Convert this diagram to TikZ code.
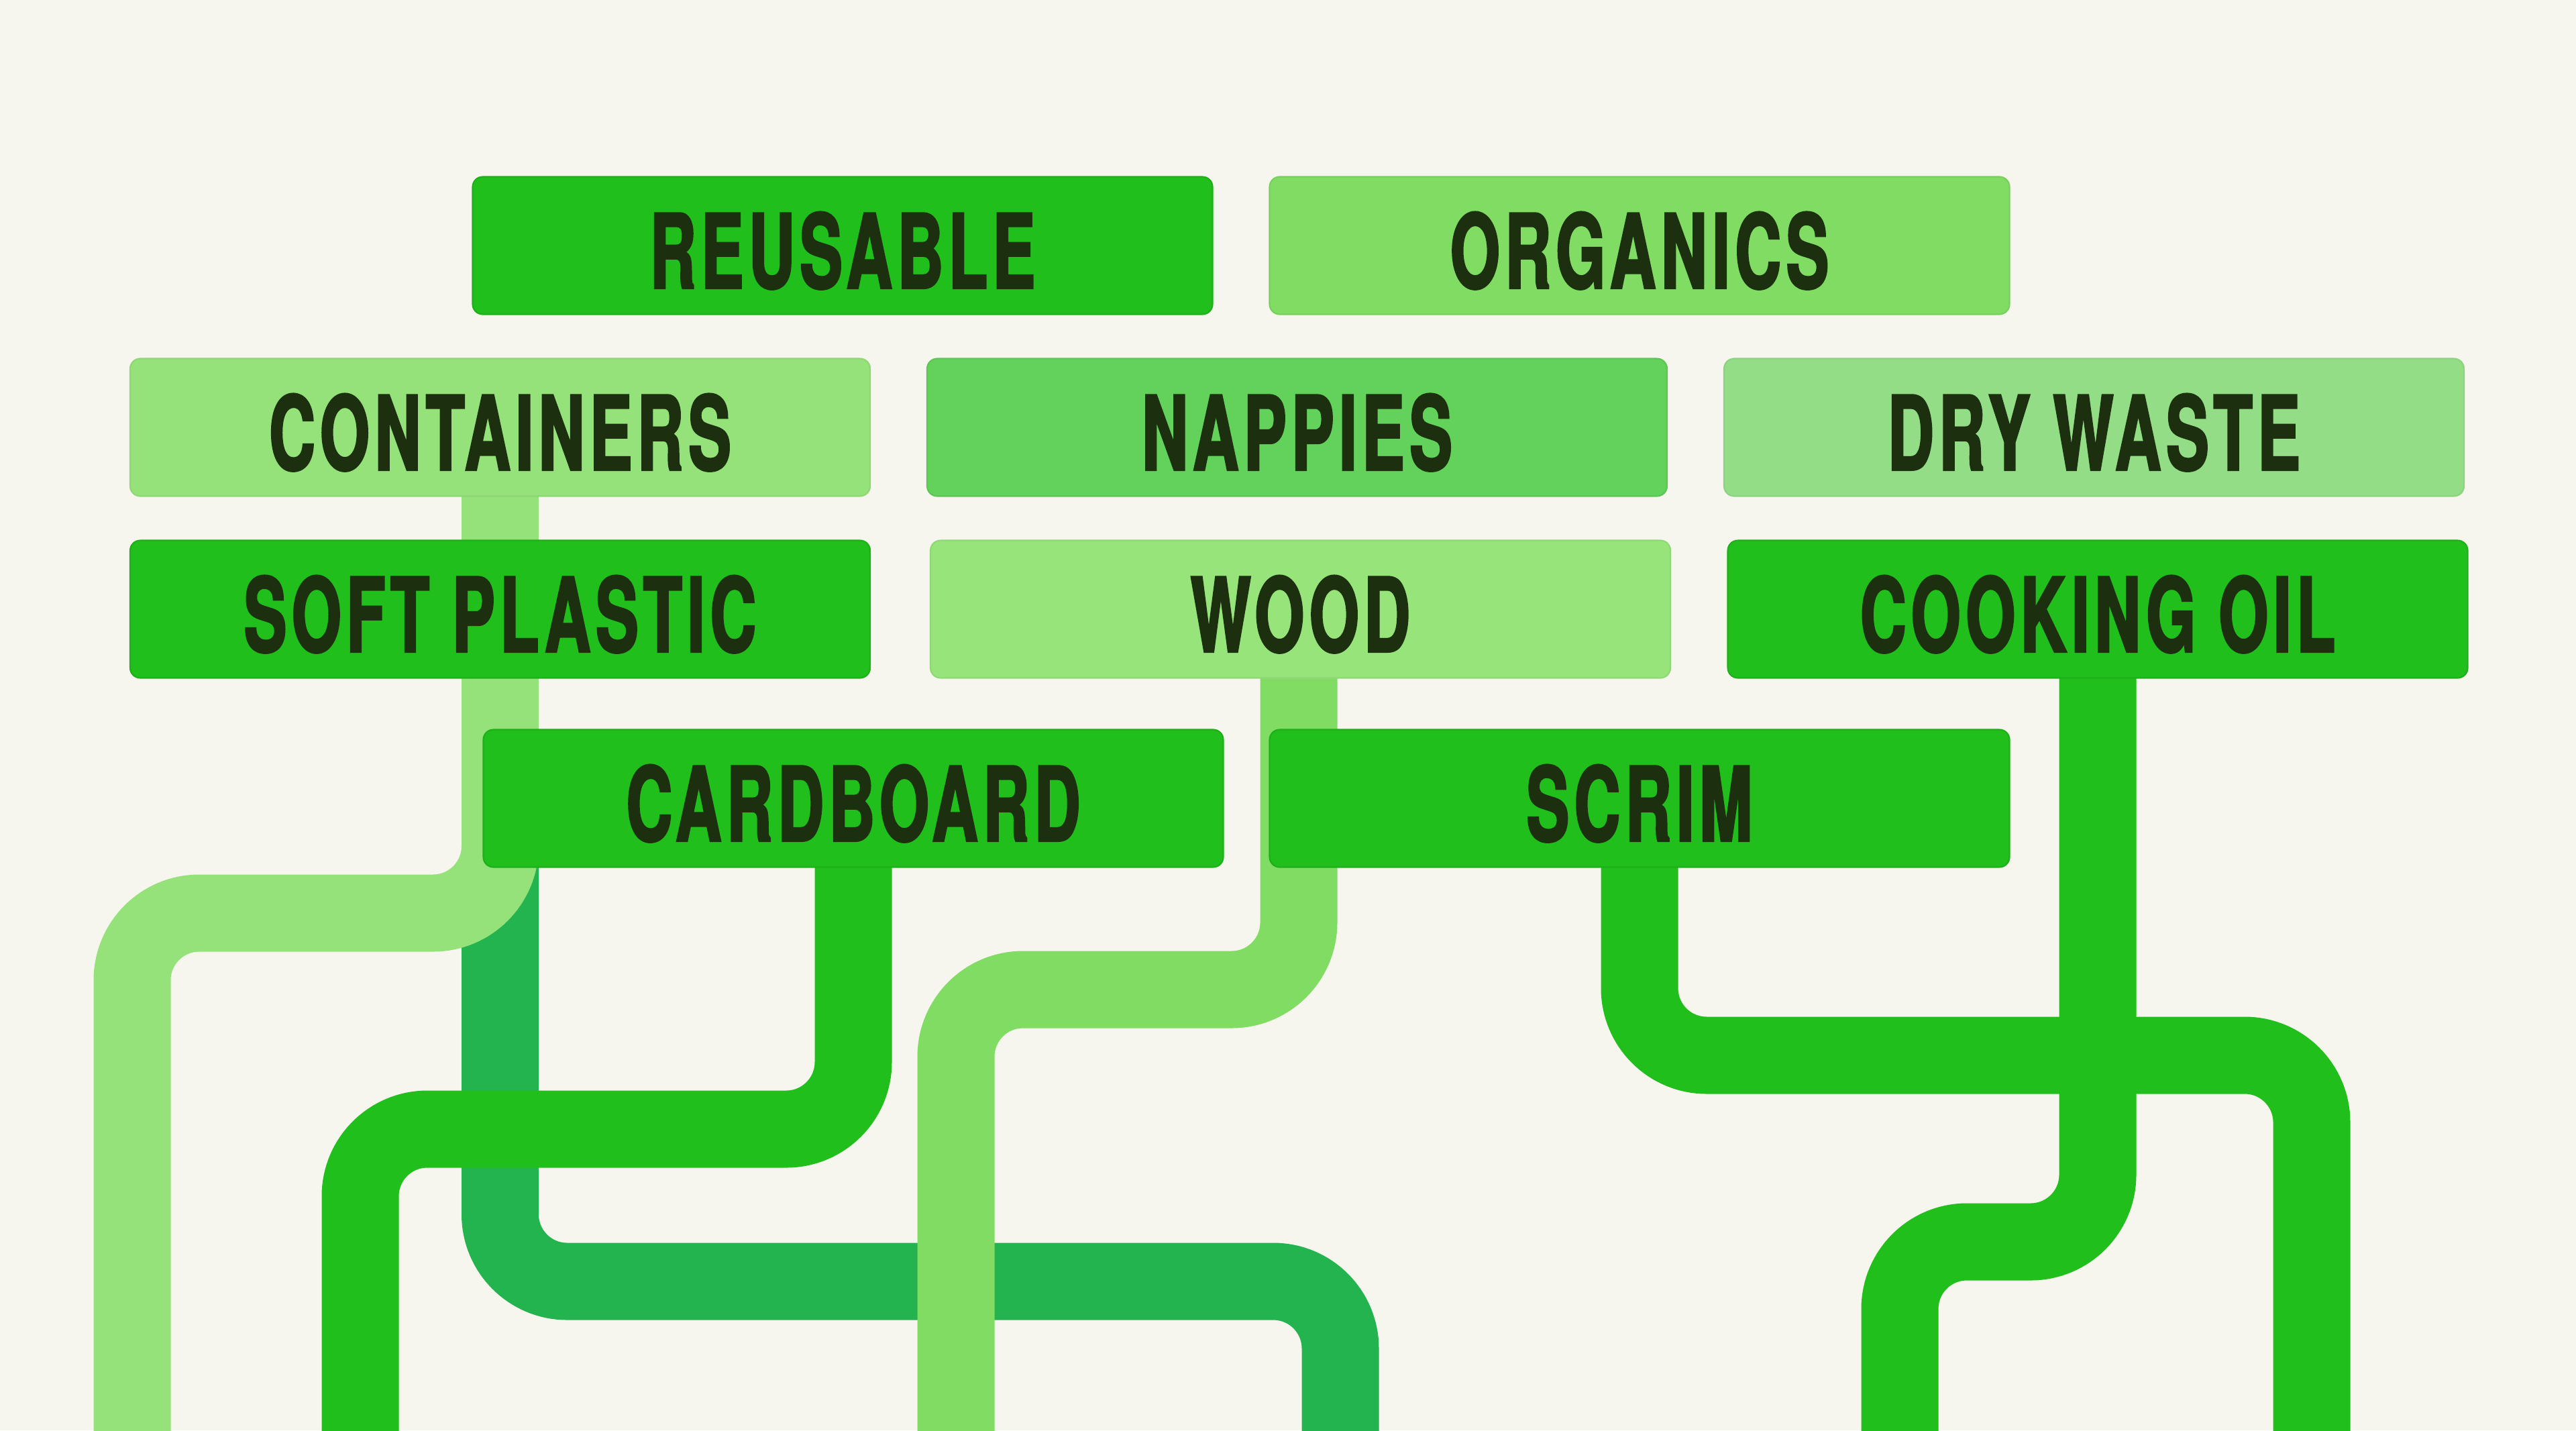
\documentclass[tikz,border=0pt]{standalone}
\usepackage{fontspec}
\setmainfont{TeX Gyre Heros}[FakeStretch=0.62, LetterSpace=5, FakeBold=2]
\definecolor{bgc}{HTML}{F7F6EE}
\definecolor{bright}{HTML}{21BF1C}
\definecolor{organic}{HTML}{80DC62}
\definecolor{contain}{HTML}{95E27A}
\definecolor{nappy}{HTML}{62D25B}
\definecolor{drywaste}{HTML}{93DD87}
\definecolor{woodc}{HTML}{96E47A}
\definecolor{tealc}{HTML}{23B450}
\definecolor{ink}{HTML}{1C3010}
\pgfdeclarelayer{background}
\pgfsetlayers{background,main}
\begin{document}
\begin{tikzpicture}[x=1cm,y=-1cm,
  box/.style={rectangle, rounded corners=0.15cm, minimum width=11.03cm, minimum height=2.05cm,
    inner sep=0pt, text height=1.27cm, text depth=0pt, text=ink, line width=0.6pt,
    font=\bfseries\fontsize{43.6}{44}\selectfont},
  pipe/.style={line width=1.15cm, rounded corners=1cm}]
\useasboundingbox (0,0) rectangle (38.4,21.32);
\node[box, fill=bright, draw=bright!92!black]     (reusable)    at (12.56,3.66) {REUSABLE};
\node[box, fill=organic, draw=organic!94!black]   (organics)    at (24.44,3.66) {ORGANICS};
\node[box, fill=contain, draw=contain!95!black]   (containers)  at (7.455,6.37) {CONTAINERS};
\node[box, fill=nappy, draw=nappy!94!black]       (nappies)     at (19.335,6.37) {NAPPIES};
\node[box, fill=drywaste, draw=drywaste!95!black] (drywaste)    at (31.215,6.37) {DRY WASTE};
\node[box, fill=bright, draw=bright!92!black]     (softplastic) at (7.455,9.08) {SOFT PLASTIC};
\node[box, fill=woodc, draw=woodc!95!black]       (wood)        at (19.385,9.08) {WOOD};
\node[box, fill=bright, draw=bright!92!black]     (cookingoil)  at (31.27,9.08) {COOKING OIL};
\node[box, fill=bright, draw=bright!92!black]     (cardboard)   at (12.72,11.90) {CARDBOARD};
\node[box, fill=bright, draw=bright!92!black]     (scrim)       at (24.44,11.90) {SCRIM};
\coordinate (e1) at (1.97,21.6);
\coordinate (e2) at (19.98,21.6);
\coordinate (e3) at (5.37,21.6);
\coordinate (e4) at (14.25,21.6);
\coordinate (e5) at (34.46,21.6);
\coordinate (e6) at (28.32,21.6);
\begin{pgfonlayer}{background}
\fill[bgc] (0,0) rectangle (38.4,21.32);
\draw[pipe, tealc] (containers.center |- cardboard.center) -- (7.455,19.10) -- (e2 |- 0,19.10) -- (e2);
\draw[pipe, contain] (containers.center) -- (7.455,13.61) -- (e1 |- 0,13.61) -- (e1);
\draw[pipe, bright] (cardboard.center) -- (cardboard.center |- 0,16.83) -- (e3 |- 0,16.83) -- (e3);
\draw[pipe, organic] (19.36,9.08) -- (19.36,14.75) -- (e4 |- 0,14.75) -- (e4);
\draw[pipe, bright] (scrim.center) -- (scrim.center |- 0,15.73) -- (e5 |- 0,15.73) -- (e5);
\draw[pipe, bright] (cookingoil.center) -- (cookingoil.center |- 0,18.51) -- (e6 |- 0,18.51) -- (e6);
\end{pgfonlayer}
\end{tikzpicture}
\end{document}
